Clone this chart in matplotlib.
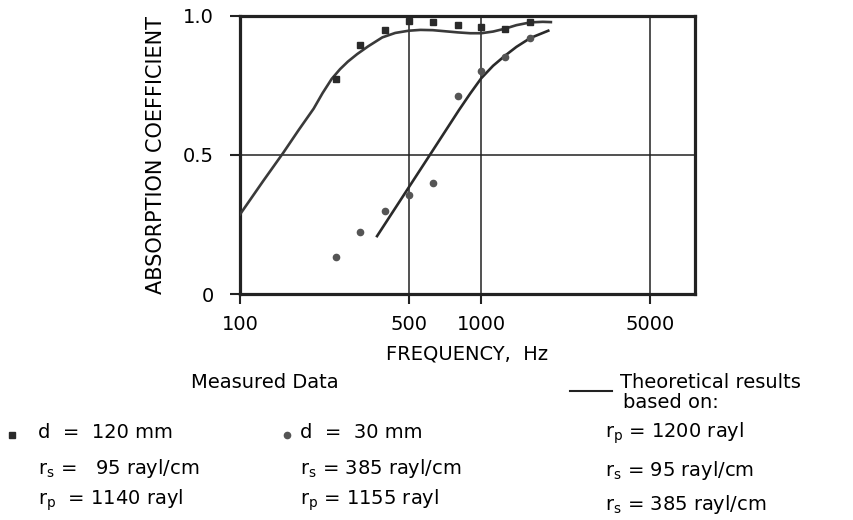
import numpy as np
import matplotlib.pyplot as plt
from matplotlib.lines import Line2D

# measured data, 1/3-octave bands
freq = [250, 315, 400, 500, 630, 800, 1000, 1250, 1600]
alpha_120mm = [0.773, 0.895, 0.948, 0.981, 0.976, 0.968, 0.958, 0.952, 0.978]
alpha_30mm = [0.134, 0.223, 0.297, 0.355, 0.400, 0.711, 0.800, 0.852, 0.921]

# theoretical curves
theory1_f = [100, 125, 151, 175, 202, 220, 240, 260, 280, 306, 340, 389, 440, 500, 560, 630,
             710, 800, 900, 1000, 1120, 1250, 1400, 1600, 1800, 1945]
theory1_a = [0.286, 0.407, 0.507, 0.589, 0.666, 0.722, 0.773, 0.808, 0.835, 0.862, 0.89, 0.922, 0.938, 0.946, 0.949, 0.948,
             0.944, 0.940, 0.937, 0.937, 0.943, 0.953, 0.966, 0.976, 0.978, 0.977]
theory2_f = [370, 613, 809, 900, 1000, 1120, 1250, 1400, 1600, 1897]
theory2_a = [0.208, 0.50, 0.661, 0.72, 0.775, 0.82, 0.855, 0.888, 0.92, 0.946]

xticks = [100, 500, 1000, 5000]
yticks = [0, 0.5, 1.0]
ytick_labels = ["0", "0.5", "1.0"]

plt.rcParams['font.family'] = 'DejaVu Sans'
ink = '#222222'

fig = plt.figure(figsize=(8.54, 5.2), dpi=100)
ax = fig.add_axes([240/854, 1 - 294/520, 455/854, 278.3/520])

ax.plot(theory1_f, theory1_a, color='#3a3a3a', lw=1.9, zorder=3)
ax.plot(theory2_f, theory2_a, color='#2a2a2a', lw=1.9, zorder=3)
ax.plot(freq, alpha_120mm, 's', color='#2a2a2a', ms=4.5, zorder=4)
ax.plot(freq, alpha_30mm, 'o', color='#555555', ms=4.5, zorder=4)

ax.set_xscale('log')
ax.set_xlim(100, 7700)
ax.set_ylim(0, 1.0)
ax.set_xticks(xticks)
ax.set_xticklabels([str(t) for t in xticks])
ax.minorticks_off()
ax.set_yticks(yticks)
ax.set_yticklabels(ytick_labels)
ax.tick_params(direction='out', length=7, width=1.5, color=ink, labelsize=14)
ax.tick_params(axis='x', pad=8)
ax.tick_params(axis='y', pad=12)
ax.grid(True, color=ink, lw=1.1)
for s in ax.spines.values():
    s.set_linewidth(2.3)
    s.set_color(ink)

ax.set_xlabel("FREQUENCY,  Hz", fontsize=14, labelpad=8)
ax.set_ylabel("ABSORPTION COEFFICIENT", fontsize=15, labelpad=12)

def ft(x, y, s, **kw):
    fig.text(x/854, 1 - y/520, s, fontsize=14, va='center', **kw)

ft(265, 383, "Measured Data", ha='center')
fig.add_artist(Line2D([570/854, 612/854], [1 - 391/520] * 2, color=ink, lw=1.5))
ft(620, 383, "Theoretical results")
ft(623, 402, "based on:")

fig.add_artist(Line2D([12/854], [1 - 435/520], marker='s', ms=4.5, color='#2a2a2a'))
ft(38, 433, "d  =  120 mm")
fig.add_artist(Line2D([287/854], [1 - 435/520], marker='o', ms=4.5, color='#555555'))
ft(300, 433, "d  =  30 mm")
ft(605, 433, r"r$_\mathrm{p}$ = 1200 rayl")

ft(38, 468, r"r$_\mathrm{s}$ =   95 rayl/cm")
ft(300, 468, r"r$_\mathrm{s}$ = 385 rayl/cm")
ft(605, 470, r"r$_\mathrm{s}$ = 95 rayl/cm")

ft(38, 500, r"r$_\mathrm{p}$  = 1140 rayl")
ft(300, 500, r"r$_\mathrm{p}$ = 1155 rayl")
ft(605, 505, r"r$_\mathrm{s}$ = 385 rayl/cm")

fig.savefig("out.png", dpi=100)
